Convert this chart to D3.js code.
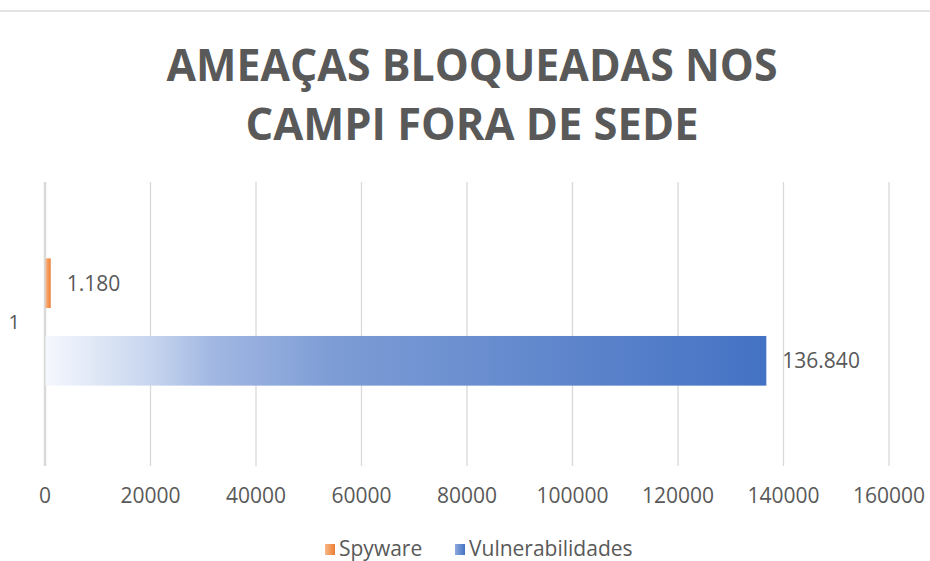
<!DOCTYPE html>
<html>
<head>
<meta charset="utf-8">
<script src="https://cdn.jsdelivr.net/npm/d3@7"></script>
<style>
  body { margin: 0; background: #fff; }
  svg { display: block; font-family: "Open Sans", sans-serif; }
</style>
</head>
<body>
<script>
// chart data
const categories = ["1"];
const seriesNames = ["Spyware", "Vulnerabilidades"];
const spyware = [1180];
const vulnerabilidades = [136840];
const xTicks = [0, 20000, 40000, 60000, 80000, 100000, 120000, 140000, 160000];
const titleLines = ["AMEAÇAS BLOQUEADAS NOS", "CAMPI FORA DE SEDE"];
const valueLabels = ["1.180", "136.840"];

(function(){
	const W = 930, H = 561;
	const plot = {left: 44.5, right: 888.5, top: 182, bottom: 462};
	const textColor = "#595959";
	const gridColor = "#d9d9d9";

	var svg = d3.select("body").append("svg")
		.attr("width", W)
		.attr("height", H);

	// gradients like the excel fill
	var defs = svg.append("defs");
	var blue = defs.append("linearGradient").attr("id", "gBlue");
	[[0, "#f5f8fd"], [0.15, "#c6d4ee"], [0.23, "#a2b8e3"], [0.4, "#7d9cd5"], [1, "#4472c4"]]
		.forEach(function(s){ blue.append("stop").attr("offset", s[0]).attr("stop-color", s[1]); });
	var orange = defs.append("linearGradient").attr("id", "gOrange");
	[[0, "#f7b888"], [1, "#ed7d31"]]
		.forEach(function(s){ orange.append("stop").attr("offset", s[0]).attr("stop-color", s[1]); });
	var blueLeg = defs.append("linearGradient").attr("id", "gBlueLeg");
	[[0, "#8fa9dc"], [1, "#4472c4"]]
		.forEach(function(s){ blueLeg.append("stop").attr("offset", s[0]).attr("stop-color", s[1]); });
	const fills = {"Spyware": "url(#gOrange)", "Vulnerabilidades": "url(#gBlue)"};
	const legFills = {"Spyware": "url(#gOrange)", "Vulnerabilidades": "url(#gBlueLeg)"};

	// top border (spreadsheet frame)
	svg.append("rect")
		.attr("x", 0).attr("y", 10)
		.attr("width", W).attr("height", 2)
		.attr("fill", "#e4e4e4");

	// title
	svg.append("g").selectAll("text")
		.data(titleLines)
		.enter().append("text")
			.attr("x", 472)
			.attr("y", function(d,i){ return 81 + i*59; })
			.attr("text-anchor", "middle")
			.attr("font-size", 44)
			.attr("font-weight", "bold")
			.attr("fill", textColor)
			.attr("textLength", function(d,i){ return i == 0 ? 611 : 453; })
			.attr("lengthAdjust", "spacingAndGlyphs")
			.text(function(d){ return d; });

	// scales
	var scaleX = d3.scaleLinear().domain([0, 160000]).range([plot.left, plot.right]);
	var scaleY = d3.scaleBand().domain(categories).range([plot.top, plot.bottom]).paddingOuter(0.6);
	var scaleS = d3.scaleBand().domain(seriesNames).range([0, scaleY.bandwidth()]).paddingInner(0.36);

	// axis x + gridlines
	var axisG = svg.append("g")
		.attr("class", "axis axis--x")
		.attr("transform", "translate(0," + (plot.bottom + 4) + ")")
		.call(d3.axisBottom(scaleX).tickValues(xTicks).tickSize(-(plot.bottom + 4 - plot.top)).tickFormat(d3.format("d")));
	axisG.select(".domain").remove();
	axisG.selectAll(".tick line")
		.attr("stroke", gridColor)
		.attr("stroke-width", function(d){ return d == 0 ? 2.5 : 1.3; });
	axisG.selectAll(".tick text")
		.attr("y", 37)
		.attr("dy", 0)
		.attr("font-size", 21)
		.attr("font-family", "'Open Sans', sans-serif")
		.attr("fill", textColor);

	// category label
	svg.append("g").selectAll("text")
		.data(categories)
		.enter().append("text")
			.attr("x", 20)
			.attr("y", function(d){ return scaleY(d) + scaleY.bandwidth()/2 + 7; })
			.attr("text-anchor", "end")
			.attr("font-size", 20)
			.attr("fill", textColor)
			.text(function(d){ return d; });

	// bars
	var rows = categories.map(function(c, i){
		return [
			{cat: c, name: "Spyware", value: spyware[i], label: valueLabels[0]},
			{cat: c, name: "Vulnerabilidades", value: vulnerabilidades[i], label: valueLabels[1]}
		];
	});
	var barG = svg.append("g").attr("id", "bars");
	rows.forEach(function(row){
		barG.selectAll(null)
			.data(row)
			.enter().append("rect")
				.attr("x", scaleX(0) + 1)
				.attr("y", function(d){ return scaleY(d.cat) + scaleS(d.name); })
				.attr("width", function(d){ return scaleX(d.value) - scaleX(0) - 1; })
				.attr("height", scaleS.bandwidth())
				.attr("fill", function(d){ return fills[d.name]; });
		barG.selectAll(null)
			.data(row)
			.enter().append("text")
				.attr("x", function(d){ return scaleX(d.value) + 16; })
				.attr("y", function(d){ return scaleY(d.cat) + scaleS(d.name) + scaleS.bandwidth()/2 + 7.5; })
				.attr("font-size", 21)
				.attr("fill", textColor)
				.text(function(d){ return d.label; });
	});

	// legend
	var legX = [325, 455];
	var leg = svg.append("g").attr("id", "legend").selectAll("g")
		.data(seriesNames)
		.enter().append("g")
			.attr("transform", function(d,i){ return "translate(" + legX[i] + ",544)"; });
	leg.append("rect")
		.attr("width", 10).attr("height", 11)
		.attr("fill", function(d){ return legFills[d]; });
	leg.append("text")
		.attr("x", 14)
		.attr("y", 12)
		.attr("font-size", 21)
		.attr("fill", textColor)
		.text(function(d){ return d; });
})();
</script>
</body>
</html>
